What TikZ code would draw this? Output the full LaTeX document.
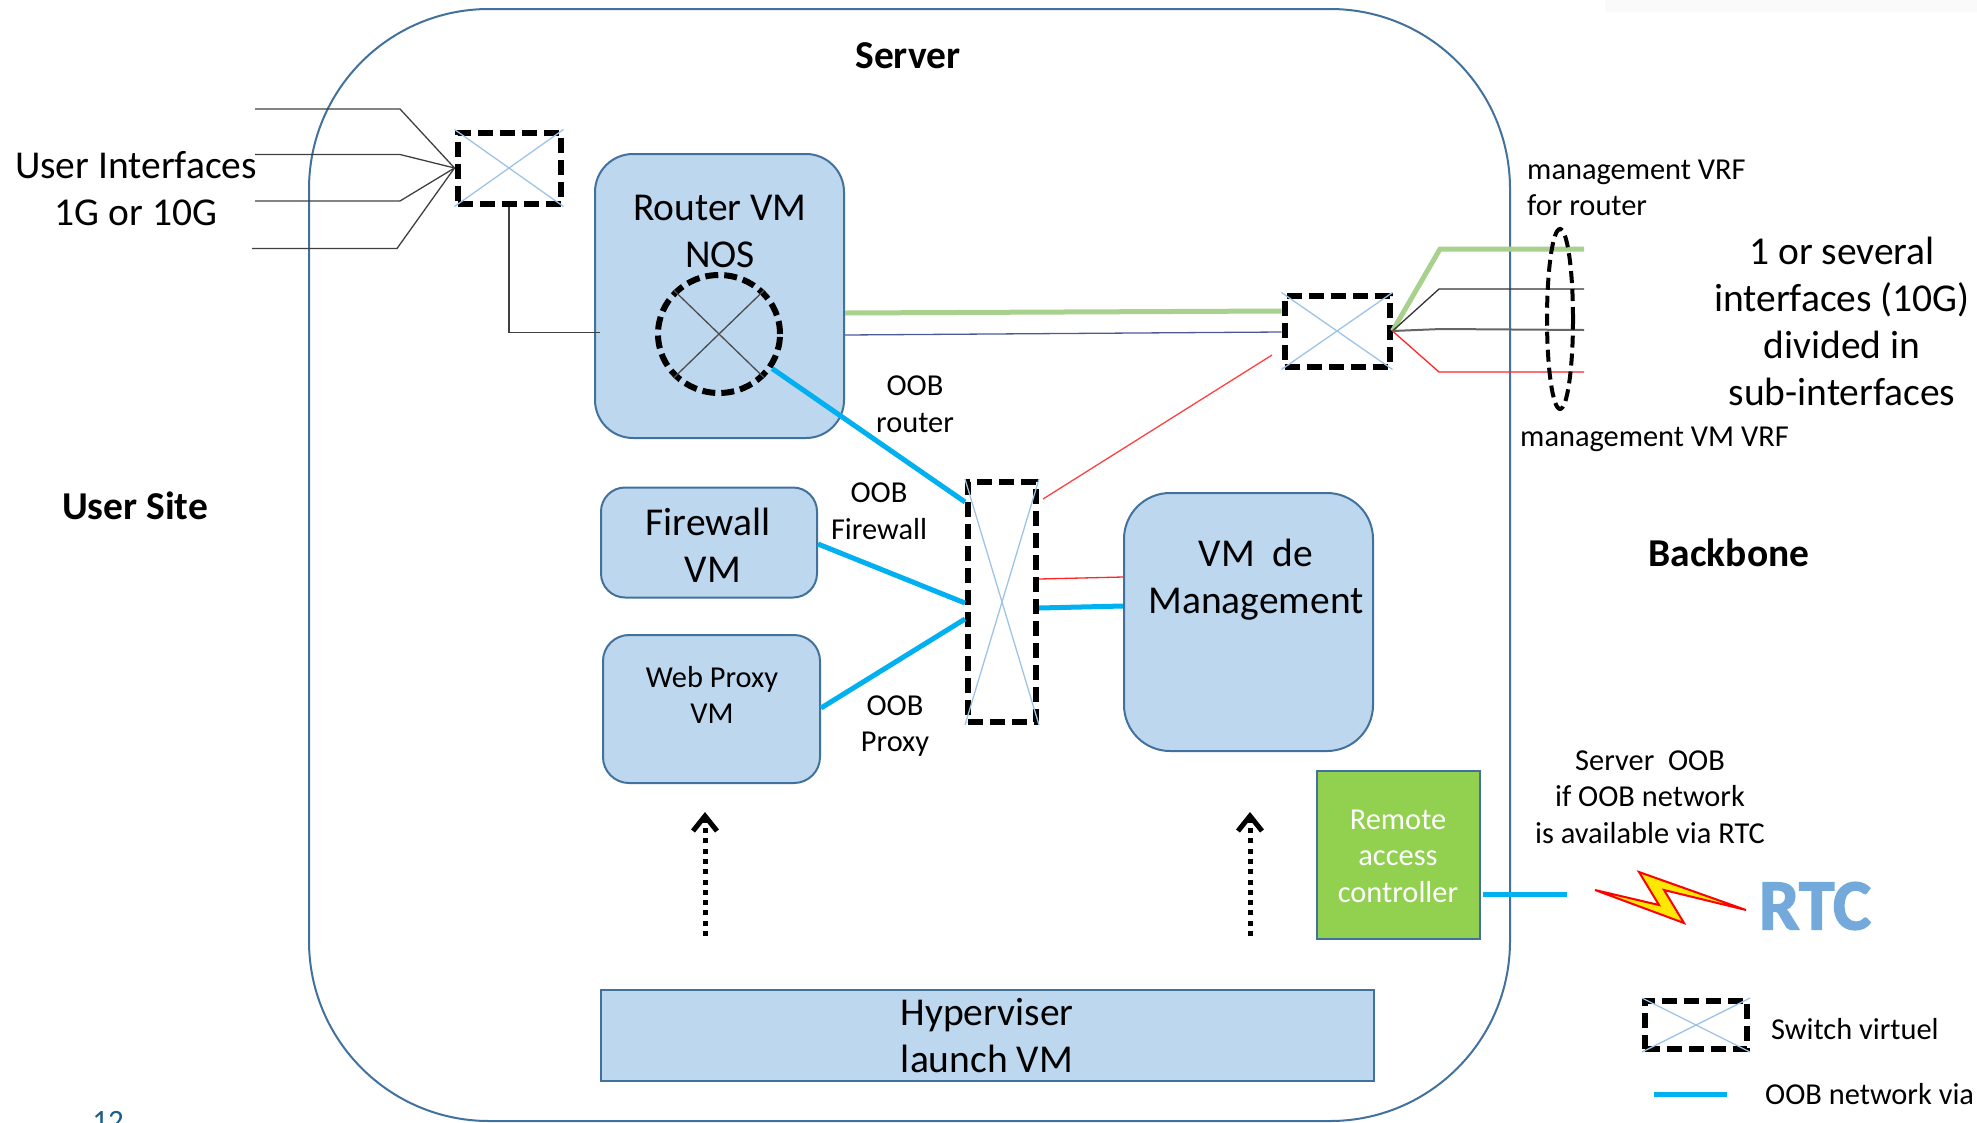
\documentclass[tikz,border=0pt]{standalone}
\usepackage{fontspec}
\usepackage{tikz}
\usetikzlibrary{shapes.geometric,arrows.meta}
\setmainfont{Carlito}
\newfontfamily\rtcfont[BoldFeatures={FakeBold=2}]{Carlito}

\definecolor{boxfill}{HTML}{BDD7EE}
\definecolor{boxline}{HTML}{41719C}
\definecolor{oobblue}{HTML}{00B0F0}
\definecolor{vrfgreen}{HTML}{A9D18E}
\definecolor{racgreen}{HTML}{92D050}
\definecolor{crossblue}{HTML}{9DC3E6}
\definecolor{rtcblue}{HTML}{74A9DC}
\definecolor{pagenum}{HTML}{1B5E8C}

\tikzset{
	bigtxt/.style={font=\fontsize{39.5}{47}\selectfont, align=center, inner sep=0pt},
	smalltxt/.style={font=\fontsize{30.4}{36.6}\selectfont, align=center, inner sep=0pt},
	headtxt/.style={font=\fontsize{39.5}{47}\selectfont\bfseries, inner sep=0pt},
	vmbox/.style={draw=boxline, fill=boxfill, line width=2pt, rounded corners=#1, inner sep=0pt},
	switchbox/.style={draw=black, line width=6pt, dash pattern=on 15pt off 7pt, inner sep=0pt},
	oobline/.style={draw=oobblue, line width=5pt},
	wanline/.style={line width=1.3pt},
	crossline/.style={draw=crossblue, line width=1.3pt},
	launcharrow/.style={line width=5pt, dash pattern=on 5pt off 5.3pt,
		-{Straight Barb[length=15pt, width=24pt, line width=5pt]}},
}

\newcommand\swcross[1]{
	\draw[crossline] (#1.north west) -- (#1.south east);
	\draw[crossline] (#1.south west) -- (#1.north east);
}

\begin{document}
\begin{tikzpicture}[x=1pt, y=-1pt]
	\useasboundingbox (0, 0) rectangle (1977, 1122);
	\clip (0, 0) rectangle (1977, 1122);

	% faint smear along the top edge
	\fill[black!2] (1605, 0) rectangle (1977, 12);

	% server outline
	\node[draw=boxline, line width=2pt, rounded corners=180pt, minimum width=1201pt, minimum height=1112pt,
		inner sep=0pt] (server) at (909.5, 565) {};
	\node[headtxt] (serverlbl) at (908, 56) {Server};

	% VM boxes
	\node[vmbox=38pt, minimum width=249pt, minimum height=284pt] (router) at (719.5, 296) {};
	\node[vmbox=24pt, minimum width=216pt, minimum height=110pt] (firewall) at (709, 542.5) {};
	\node[vmbox=26pt, minimum width=217pt, minimum height=148pt] (proxy) at (711.5, 709) {};
	\node[vmbox=46pt, minimum width=249pt, minimum height=258pt] (mgmt) at (1248.5, 622) {};
	\node[draw=boxline, fill=boxfill, line width=2pt, minimum width=773pt, minimum height=91pt,
		inner sep=0pt] (hyper) at (987.5, 1035.5) {};
	\node[draw=boxline, fill=racgreen, line width=2pt, minimum width=163pt, minimum height=168pt,
		inner sep=0pt] (rac) at (1398.5, 855) {};

	% text of the boxes
	\node[bigtxt] (routerlbl) at (720, 231) {Router VM\\NOS};
	\node[bigtxt] (firewalllbl) at (708, 545) {Firewall\\\hspace{10pt}VM};
	\node[smalltxt] (proxylbl) at (712, 695) {Web Proxy\\VM};
	\node[bigtxt] (mgmtlbl) at (1256, 579.5) {VM\ \ de\\Management};
	\node[bigtxt] (hyperlbl) at (987, 1036) {Hyperviser\\launch VM};
	\node[smalltxt, text=white] (raclbl) at (1398, 856) {Remote\\access\\controller};

	% virtual switches
	\node[switchbox, minimum width=103pt, minimum height=71pt] (swuser) at (509, 168) {};
	\node[switchbox, minimum width=105pt, minimum height=71pt] (swwan) at (1337, 331) {};
	\node[switchbox, minimum width=68pt, minimum height=240pt] (swoob) at (1002, 602) {};
	\node[switchbox, minimum width=102pt, minimum height=48pt] (swlegend) at (1696, 1025) {};
	\swcross{swuser}
	\swcross{swwan}
	\swcross{swoob}
	\swcross{swlegend}

	% virtual router
	\node[ellipse, draw=black, line width=6pt, dash pattern=on 13pt off 6pt, minimum width=122pt,
		minimum height=118pt, inner sep=0pt] (vrouter) at (719, 334) {};
	\draw[wanline, black!70] (vrouter.north west) -- (vrouter.south east);
	\draw[wanline, black!70] (vrouter.north east) -- (vrouter.south west);

	% user interfaces
	\coordinate (ua) at (255, 109);
	\coordinate (ub) at (255, 154.5);
	\coordinate (uc) at (255, 201);
	\coordinate (ud) at (252, 248.5);
	\draw[wanline, black!75] (ua) -- (400, 109) -- (swuser.west);
	\draw[wanline, black!75] (ub) -- (400, 154.5) -- (swuser.west);
	\draw[wanline, black!75] (uc) -- (400, 201) -- (swuser.west);
	\draw[wanline, black!75] (ud) -- (397, 248.5) -- (swuser.west);
	\coordinate (rin) at (600, 332.5);
	\draw[wanline, black!75] (swuser.south) |- (rin);

	% backbone side
	\coordinate (wa) at (1584, 249);
	\coordinate (wb) at (1584, 289);
	\coordinate (wc) at (1584, 330);
	\coordinate (wd) at (1584, 372);
	\draw[draw=vrfgreen, line width=5pt] (swwan.east) -- (1440, 249) -- (wa);
	\draw[wanline, black!80] (swwan.east) -- (1439, 289) -- (wb);
	\draw[wanline, black!60, line width=2pt] (swwan.east) -- (1441, 329) -- (wc);
	\draw[wanline, red!85] (swwan.east) -- (1439, 372) -- (wd);
	\draw[draw=vrfgreen, line width=5pt] (router.east |- 0, 313) -- (swwan.west |- 0, 311);
	\draw[wanline, draw=boxline!80!violet] (router.east |- 0, 335) -- (swwan.west |- 0, 332);
	\node[ellipse, draw=black, line width=4pt, dash pattern=on 12pt off 6pt, minimum width=26pt,
		minimum height=180pt, inner sep=0pt] (vrf) at (1560, 319) {};

	% red management path
	\coordinate (ra) at (1272, 355);
	\coordinate (rb) at (1043, 499);
	\draw[wanline, red!75] (ra) -- (rb);
	\draw[wanline, red!85] (swoob.east |- 0, 579) -- (mgmt.west |- 0, 577);

	% OOB links
	\draw[oobline] (vrouter.-33) -- (swoob.west |- 0, 502);
	\draw[oobline] (firewall.east |- 0, 544) -- (swoob.west |- 0, 603);
	\draw[oobline] (proxy.east |- 0, 708) -- (swoob.west |- 0, 619);
	\draw[oobline] (swoob.east |- 0, 608) -- (mgmt.west |- 0, 606);

	% labels of the links
	\node[smalltxt] (oobrouter) at (915, 404.5) {OOB\\router};
	\node[smalltxt] (oobfw) at (879, 511) {OOB\\Firewall};
	\node[smalltxt] (oobproxy) at (895, 726) {OOB\\Proxy};
	\node[smalltxt, align=left, anchor=west] (vrfrouter) at (1527, 188) {management VRF\\for router};
	\node[smalltxt, anchor=west] (vrfvm) at (1520, 439.5) {management VM VRF};

	% side texts
	\node[bigtxt] (userif) at (136, 189) {User Interfaces\\1G or 10G};
	\node[headtxt] (usersite) at (135, 506) {User Site};
	\node[headtxt] (backbone) at (1729, 553) {Backbone};
	\node[bigtxt] (severalif) at (1842, 321) {1 or several\\interfaces (10G)\\divided in\\sub-interfaces};

	% hypervisor launches the VMs
	\coordinate (arra) at (705, 936);
	\coordinate (arrb) at (705, 812);
	\coordinate (arrc) at (1250, 936);
	\coordinate (arrd) at (1250, 812);
	\draw[launcharrow] (arra) -- (arrb);
	\draw[launcharrow] (arrc) -- (arrd);

	% RTC
	\coordinate (racin) at (1483, 894);
	\coordinate (racout) at (1567, 894);
	\draw[oobline] (racin) -- (racout);
	\node[smalltxt] (rtclbl) at (1650, 797) {Server\ \ OOB\\if OOB network\\is available via RTC};
	\draw[draw=red, fill=yellow!90!orange, line width=2pt, line join=miter]
		(1595, 890) -- (1684, 923) -- (1664, 890) -- (1746, 910) -- (1639, 872) -- (1659, 905) -- cycle;
	\node[font=\rtcfont\fontsize{72}{72}\selectfont\bfseries, text=rtcblue, inner sep=0pt] (rtc) at (1815, 906) {RTC};

	% legend
	\node[smalltxt, anchor=west] (legsw) at (1771, 1029) {Switch virtuel};
	\coordinate (lega) at (1654, 1094);
	\coordinate (legb) at (1727, 1094);
	\draw[oobline] (lega) -- (legb);
	\node[smalltxt, anchor=west] (legoob) at (1765, 1094) {OOB network via};

	% slide number
	\node[font=\fontsize{31}{31}\selectfont, text=pagenum, inner sep=0pt, anchor=base] (pagelbl) at (108, 1131) {12};
\end{tikzpicture}
\end{document}
